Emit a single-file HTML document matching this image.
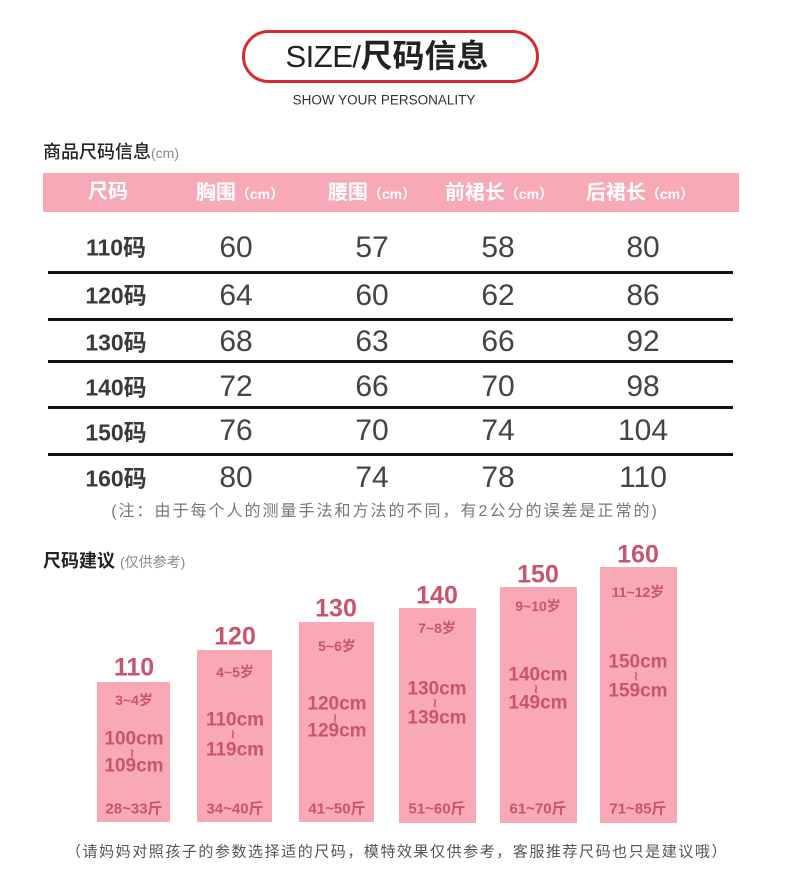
<!DOCTYPE html>
<html><head><meta charset="utf-8">
<style>
*{margin:0;padding:0;box-sizing:border-box}
body{width:790px;height:884px;background:#fff;position:relative;overflow:hidden;font-family:"Liberation Sans","Noto Sans CJK SC",sans-serif}
.t{position:absolute;white-space:nowrap;line-height:1;transform:translate(-50%,-50%)}
.l{position:absolute;white-space:nowrap;line-height:1}
.ln{position:absolute;left:48px;width:685px;height:2.5px;background:#111}
.hd{color:#fff;font-weight:bold;font-size:20px}
.hd small{font-size:14px}
.rl{font-size:23px;font-weight:bold;color:#3a3a3a}
.nm{font-size:30px;color:#444}
.bar{position:absolute;background:#f8a9b5}
.bt{color:#c9546d;font-weight:bold}
.top{font-size:25px}
.age{font-size:14px}
.cm{font-size:19px}
.tl{font-size:12px}
.wt{font-size:15px}
</style></head><body>

<div style="position:absolute;left:242px;top:30px;width:297px;height:53px;border:3px solid #d42a30;border-radius:27px"></div>
<div class="t" style="left:387px;top:56px;color:#222"><span style="font-size:31px;letter-spacing:-0.5px">SIZE/</span><span style="font-size:32px;font-weight:bold">尺码信息</span></div>
<div class="t" style="left:384px;top:100px;font-size:13.5px;color:#333">SHOW YOUR PERSONALITY</div>

<div class="l" style="left:43px;top:143px;font-size:18px;color:#222;font-weight:500">商品尺码信息<span style="font-size:14px;color:#888;font-weight:normal">(cm)</span></div>

<div style="position:absolute;left:43px;top:173px;width:696px;height:39px;background:#f8a9b6"></div>
<div class="t hd" style="left:108px;top:192px">尺码</div>
<div class="t hd" style="left:240px;top:193px">胸围<small>（cm）</small></div>
<div class="t hd" style="left:372px;top:193px">腰围<small>（cm）</small></div>
<div class="t hd" style="left:499px;top:193px">前裙长<small>（cm）</small></div>
<div class="t hd" style="left:640px;top:193px">后裙长<small>（cm）</small></div>

<div class="ln" style="top:271px"></div>
<div class="ln" style="top:318px"></div>
<div class="ln" style="top:360px"></div>
<div class="ln" style="top:406px"></div>
<div class="ln" style="top:453px"></div>

<div class="t rl" style="left:116px;top:248px">110码</div>
<div class="t nm" style="left:236px;top:248px">60</div>
<div class="t nm" style="left:372px;top:248px">57</div>
<div class="t nm" style="left:498px;top:248px">58</div>
<div class="t nm" style="left:643px;top:248px">80</div>

<div class="t rl" style="left:116px;top:296px">120码</div>
<div class="t nm" style="left:236px;top:296px">64</div>
<div class="t nm" style="left:372px;top:296px">60</div>
<div class="t nm" style="left:498px;top:296px">62</div>
<div class="t nm" style="left:643px;top:296px">86</div>

<div class="t rl" style="left:116px;top:343px">130码</div>
<div class="t nm" style="left:236px;top:342px">68</div>
<div class="t nm" style="left:372px;top:342px">63</div>
<div class="t nm" style="left:498px;top:342px">66</div>
<div class="t nm" style="left:643px;top:342px">92</div>

<div class="t rl" style="left:116px;top:388px">140码</div>
<div class="t nm" style="left:236px;top:387px">72</div>
<div class="t nm" style="left:372px;top:387px">66</div>
<div class="t nm" style="left:498px;top:387px">70</div>
<div class="t nm" style="left:643px;top:387px">98</div>

<div class="t rl" style="left:116px;top:433px">150码</div>
<div class="t nm" style="left:236px;top:431px">76</div>
<div class="t nm" style="left:372px;top:431px">70</div>
<div class="t nm" style="left:498px;top:431px">74</div>
<div class="t nm" style="left:643px;top:431px">104</div>

<div class="t rl" style="left:116px;top:479px">160码</div>
<div class="t nm" style="left:236px;top:478px">80</div>
<div class="t nm" style="left:372px;top:478px">74</div>
<div class="t nm" style="left:498px;top:478px">78</div>
<div class="t nm" style="left:643px;top:478px">110</div>

<div class="t" style="left:385px;top:512px;font-size:16px;letter-spacing:2px;color:#777">(注：由于每个人的测量手法和方法的不同，有2公分的误差是正常的)</div>

<div class="l" style="left:43px;top:552px;font-size:18px;color:#222;font-weight:bold">尺码建议 <span style="font-size:14px;color:#888;font-weight:normal">(仅供参考)</span></div>

<!-- bars -->
<div class="bar" style="left:97px;top:682px;width:73px;height:140px"></div>
<div class="bar" style="left:197px;top:650px;width:75px;height:172px"></div>
<div class="bar" style="left:299px;top:622px;width:75px;height:200px"></div>
<div class="bar" style="left:399px;top:608px;width:77px;height:215px"></div>
<div class="bar" style="left:500px;top:587px;width:77px;height:236px"></div>
<div class="bar" style="left:600px;top:567px;width:77px;height:256px"></div>

<div class="t bt top" style="left:134px;top:668px">110</div>
<div class="t bt top" style="left:235px;top:637px">120</div>
<div class="t bt top" style="left:336px;top:609px">130</div>
<div class="t bt top" style="left:437px;top:596px">140</div>
<div class="t bt top" style="left:538px;top:575px">150</div>
<div class="t bt top" style="left:638px;top:555px">160</div>

<div class="t bt age" style="left:134px;top:700px">3~4岁</div>
<div class="t bt cm" style="left:134px;top:739px">100cm</div>
<div class="t bt tl" style="left:132px;top:753px">≀</div>
<div class="t bt cm" style="left:134px;top:766px">109cm</div>
<div class="t bt wt" style="left:134px;top:809px">28~33斤</div>

<div class="t bt age" style="left:235px;top:672px">4~5岁</div>
<div class="t bt cm" style="left:235px;top:720px">110cm</div>
<div class="t bt tl" style="left:233px;top:734px">≀</div>
<div class="t bt cm" style="left:235px;top:750px">119cm</div>
<div class="t bt wt" style="left:235px;top:809px">34~40斤</div>

<div class="t bt age" style="left:337px;top:646px">5~6岁</div>
<div class="t bt cm" style="left:337px;top:704px">120cm</div>
<div class="t bt tl" style="left:335px;top:718px">≀</div>
<div class="t bt cm" style="left:337px;top:731px">129cm</div>
<div class="t bt wt" style="left:337px;top:809px">41~50斤</div>

<div class="t bt age" style="left:437px;top:628px">7~8岁</div>
<div class="t bt cm" style="left:437px;top:689px">130cm</div>
<div class="t bt tl" style="left:435px;top:703px">≀</div>
<div class="t bt cm" style="left:437px;top:718px">139cm</div>
<div class="t bt wt" style="left:437px;top:809px">51~60斤</div>

<div class="t bt age" style="left:538px;top:606px">9~10岁</div>
<div class="t bt cm" style="left:538px;top:675px">140cm</div>
<div class="t bt tl" style="left:536px;top:689px">≀</div>
<div class="t bt cm" style="left:538px;top:703px">149cm</div>
<div class="t bt wt" style="left:538px;top:809px">61~70斤</div>

<div class="t bt age" style="left:638px;top:592px">11~12岁</div>
<div class="t bt cm" style="left:638px;top:662px">150cm</div>
<div class="t bt tl" style="left:636px;top:676px">≀</div>
<div class="t bt cm" style="left:638px;top:691px">159cm</div>
<div class="t bt wt" style="left:638px;top:809px">71~85斤</div>

<div class="t" style="left:397px;top:852px;font-size:15px;letter-spacing:1.55px;color:#555">（请妈妈对照孩子的参数选择适的尺码，模特效果仅供参考，客服推荐尺码也只是建议哦）</div>

</body></html>
